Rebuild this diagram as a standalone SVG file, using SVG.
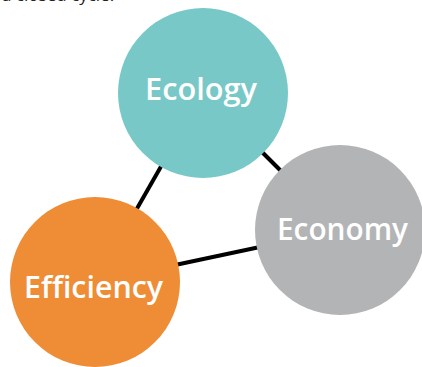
<svg xmlns="http://www.w3.org/2000/svg" width="422" height="367" viewBox="0 0 422 367">
<style>
.lbl{font-family:"Open Sans","Noto Sans","Liberation Sans",sans-serif;font-weight:600;font-size:30px;fill:#ffffff;text-anchor:middle}
.conn{stroke:#000000;stroke-width:4;fill:none}
</style>
<rect width="422" height="367" fill="#ffffff"/>
<text x="2" y="1" font-family="Open Sans, sans-serif" font-size="17" fill="#222222">a closed cycle.</text>
<g id="connectors">
<line class="conn" x1="203" y1="93" x2="95" y2="282"/>
<line class="conn" x1="203" y1="93" x2="340" y2="230"/>
<line class="conn" x1="95" y1="282" x2="340" y2="230"/>
</g>
<g id="ecology">
<circle cx="203" cy="93" r="85" fill="#78C8C8"/>
<text class="lbl" x="201" y="100" textLength="112" lengthAdjust="spacingAndGlyphs">Ecology</text>
</g>
<g id="economy">
<circle cx="340" cy="230" r="85" fill="#B3B4B6"/>
<text class="lbl" x="342.5" y="240" textLength="131" lengthAdjust="spacingAndGlyphs">Economy</text>
</g>
<g id="efficiency">
<circle cx="95" cy="282" r="85" fill="#EE8D35"/>
<text class="lbl" x="93.5" y="298" textLength="139" lengthAdjust="spacingAndGlyphs">Efficiency</text>
</g>
</svg>
